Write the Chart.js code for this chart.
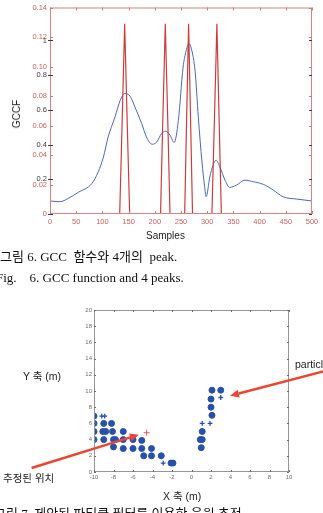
<!DOCTYPE html>
<html>
<head>
<meta charset="utf-8">
<script src="https://cdn.jsdelivr.net/npm/chart.js@4"></script>
<style>
  html, body { margin: 0; padding: 0; background: #fff; }
  body { width: 323px; height: 513px; overflow: hidden; position: relative; }
  canvas { position: absolute; left: 0; }
  #gcc { top: 0; }
  #track { top: 290px; }
  .t { position: absolute; white-space: pre; color: #222; line-height: 1;
       font-family: "Liberation Sans", "Noto Sans CJK KR", sans-serif; }
  .cap { position: absolute; white-space: pre; color: #111; line-height: 1; font-size: 13px;
         font-family: "Liberation Serif", "Noto Sans CJK KR", serif; }
</style>
</head>
<body>
<canvas id="gcc" width="323" height="245"></canvas>
<canvas id="track" width="323" height="200"></canvas>

<div class="t" style="left:17px;top:114px;font-size:10px;transform:translate(-50%,-50%) rotate(-90deg);">GCCF</div>
<div class="t" style="left:146px;top:231px;font-size:10px;">Samples</div>
<div class="cap" style="left:0;top:250px;">그림 6. GCC  함수와 4개의  peak.</div>
<div class="cap" style="left:-4px;top:271px;">Fig.    6. GCC function and 4 peaks.</div>

<div class="t" style="left:23px;top:371px;font-size:10.5px;">Y 축 (m)</div>
<div class="t" style="left:295px;top:359px;font-size:10.5px;">particle</div>
<div class="t" style="left:3px;top:473px;font-size:10.5px;">추정된 위치</div>
<div class="t" style="left:163px;top:491px;font-size:10.5px;">X 축 (m)</div>
<div class="cap" style="left:-6px;top:507px;">그림 7. 제안된 파티클 필터를 이용한 음원 추적</div>

<script>
"use strict";

// GCC 함수 (파란 곡선, 검은 눈금 0~1)
const gccX = [0, 19, 35, 54, 80, 92, 102, 111, 124, 134, 142, 153, 162, 175, 184, 195, 204, 213, 221, 229,
              237, 245, 254, 259, 265, 270, 277, 283, 290, 295, 298, 305, 311, 317, 324, 334, 343, 356,
              372, 388, 407, 426, 445, 471, 500];
const gccY = [0.075, 0.071, 0.090, 0.125, 0.176, 0.243, 0.329, 0.444, 0.559, 0.655, 0.694, 0.678, 0.617,
              0.521, 0.444, 0.402, 0.416, 0.464, 0.477, 0.454, 0.412, 0.540, 0.847, 0.930, 0.983, 0.950,
              0.820, 0.560, 0.300, 0.160, 0.100, 0.214, 0.280, 0.310, 0.272, 0.195, 0.153, 0.167, 0.195,
              0.186, 0.171, 0.138, 0.099, 0.086, 0.075];

// 4개의 peak (빨간 선, 빨간 눈금 0~0.14)
const peakX = [0, 133, 137.5, 142.5, 147.5, 152, 211, 215, 220, 225, 229, 257, 260.5, 264.5, 268.5, 272,
               309, 313.5, 318.5, 323, 327, 500];
const peakY = [0, 0, 0.06, 0.129, 0.06, 0, 0, 0.06, 0.129, 0.06, 0, 0, 0.06, 0.129, 0.06, 0,
               0, 0.06, 0.129, 0.06, 0, 0];

// 파티클 (굵은 점)
const partX = [-10, -10, -9, -8.2, -10, -9.1, -8.8, -8.1, -7, -10, -9, -8, -7.8, -7, -6, -5.1,
               -8, -7, -6, -5.1, -4.1, -4.9, -4.1, -3.1, -2.1, -1.9,
               2.1, 3.0, 2.0, 2.0, 2.1, 1.1, 0.9, 1.1, 1.0];
const partY = [6.9, 6.0, 6.0, 6.0, 5.0, 5.0, 5.0, 5.0, 5.0, 4.0, 4.0, 4.0, 4.0, 4.0, 4.0, 3.9,
               3.1, 2.9, 2.9, 2.9, 2.9, 2.0, 2.0, 2.0, 1.1, 1.1,
               10.1, 10.1, 9.0, 8.0, 7.0, 5.0, 4.0, 4.0, 3.0];
// 파티클 (작은 +)
const smallX = [-9.2, -8.9, -2.9, 3.0, 1.9, 1.1];
const smallY = [6.9, 6.9, 1.1, 9.2, 6.0, 6.0];
// 추정된 위치
const estX = [-4.6];
const estY = [4.85];

const arrowList = [[-16.4, 0.5, -5.4, 4.6], [13.8, 12.5, 3.95, 9.4]];

function pairs(xs, ys) {
    return xs.map((v, i) => ({ x: v, y: ys[i] }));
}

// 테두리, 안쪽 눈금, 겹친 눈금 글자
const frameTicks = {
    id: 'frameTicks',
    afterDatasetsDraw(chart, args, opts) {
        const { ctx, chartArea: a } = chart;
        ctx.save();
        ctx.lineWidth = 1;
        ctx.strokeStyle = opts.frame;
        ctx.strokeRect(a.left + 0.5, a.top + 0.5, a.right - a.left - 1, a.bottom - a.top - 1);
        opts.axes.forEach(ax => {
            const s = chart.scales[ax.id];
            ctx.strokeStyle = ax.color;
            ctx.beginPath();
            s.ticks.forEach(t => {
                const p = Math.round(s.getPixelForValue(t.value)) + 0.5;
                if (s.isHorizontal()) {
                    ctx.moveTo(p, a.bottom); ctx.lineTo(p, a.bottom - ax.len);
                    ctx.moveTo(p, a.top); ctx.lineTo(p, a.top + ax.len);
                } else {
                    ctx.moveTo(a.left - (ax.out || 0), p); ctx.lineTo(a.left + ax.len, p);
                    ctx.moveTo(a.right, p); ctx.lineTo(a.right - ax.len, p);
                }
            });
            ctx.stroke();
            if (ax.labels) {
                ctx.fillStyle = ax.labels;
                ctx.font = '7.5px "Liberation Sans"';
                ctx.textAlign = 'right';
                ctx.textBaseline = 'middle';
                s.ticks.forEach(t => {
                    if (t.value === 0) return;
                    const txt = String(Number(t.value.toFixed(2)));
                    ctx.fillText(txt, a.left - 3, s.getPixelForValue(t.value));
                });
            }
        });
        ctx.restore();
    }
};

const arrows = {
    id: 'arrows',
    afterDraw(chart, args, opts) {
        const { ctx, scales: { x, y } } = chart;
        ctx.save();
        ctx.strokeStyle = opts.color;
        ctx.fillStyle = opts.color;
        ctx.lineWidth = opts.width;
        opts.list.forEach(([x0, y0, x1, y1]) => {
            const ax = x.getPixelForValue(x0), ay = y.getPixelForValue(y0);
            const bx = x.getPixelForValue(x1), by = y.getPixelForValue(y1);
            const ang = Math.atan2(by - ay, bx - ax);
            const hx = bx - 9 * Math.cos(ang), hy = by - 9 * Math.sin(ang);
            ctx.beginPath();
            ctx.moveTo(ax, ay);
            ctx.lineTo(hx, hy);
            ctx.stroke();
            ctx.beginPath();
            ctx.moveTo(bx, by);
            ctx.lineTo(hx + 4 * Math.sin(ang), hy - 4 * Math.cos(ang));
            ctx.lineTo(hx - 4 * Math.sin(ang), hy + 4 * Math.cos(ang));
            ctx.closePath();
            ctx.fill();
        });
        ctx.restore();
    }
};

const red = 'rgb(205,60,60)';
const redText = 'rgb(205,95,95)';

new Chart(document.getElementById('gcc'), {
    type: 'line',
    data: {
        datasets: [{
            data: pairs(peakX, peakY),
            yAxisID: 'y',
            borderColor: red,
            borderWidth: 1.2,
            pointRadius: 0,
            tension: 0
        }, {
            data: pairs(gccX, gccY),
            yAxisID: 'y2',
            borderColor: 'rgb(75,105,185)',
            borderWidth: 1,
            pointRadius: 0,
            tension: 0.4,
            cubicInterpolationMode: 'monotone'
        }]
    },
    options: {
        responsive: false,
        animation: false,
        devicePixelRatio: 1,
        layout: { padding: { left: 0, right: 11, top: 7, bottom: 0 } },
        plugins: {
            legend: { display: false },
            tooltip: { enabled: false },
            frameTicks: {
                frame: 'rgb(220,130,130)',
                axes: [
                    { id: 'x', color: 'rgb(210,120,120)', len: 3 },
                    { id: 'y', color: 'rgb(210,120,120)', len: 3 },
                    { id: 'y2', color: 'rgb(60,60,60)', len: 3, out: 2, labels: 'rgb(60,60,60)' }
                ]
            }
        },
        scales: {
            x: {
                type: 'linear', min: 0, max: 500,
                grid: { display: false, drawTicks: false }, border: { display: false },
                ticks: { stepSize: 50, color: redText, padding: 3,
                         font: { family: 'Liberation Sans', size: 7.5 } },
                afterFit: s => { s.height = 31; }
            },
            y: {
                position: 'left', weight: 1, min: 0, max: 0.14,
                grid: { display: false, drawTicks: false }, border: { display: false },
                ticks: { stepSize: 0.02, color: redText, padding: 3,
                         font: { family: 'Liberation Sans', size: 7.5 } },
                afterFit: s => { s.width = 50; }
            },
            y2: {
                position: 'left', weight: 0, min: 0, max: 1.19,
                grid: { display: false, drawTicks: false }, border: { display: false },
                ticks: { stepSize: 0.2, includeBounds: false, display: false },
                afterFit: s => { s.width = 0; }
            }
        }
    },
    plugins: [frameTicks]
});

const blue = 'rgb(40,80,170)';
const gray = 'rgb(110,110,110)';

new Chart(document.getElementById('track'), {
    type: 'scatter',
    data: {
        datasets: [{
            data: pairs(estX, estY),
            pointStyle: 'cross',
            pointRadius: 3,
            borderColor: 'rgb(240,90,90)',
            borderWidth: 1
        }, {
            data: pairs(smallX, smallY),
            pointStyle: 'cross',
            pointRadius: 2.4,
            borderColor: blue,
            borderWidth: 1.3
        }, {
            data: pairs(partX, partY),
            pointStyle: 'circle',
            pointRadius: 3,
            backgroundColor: blue,
            borderColor: blue,
            borderWidth: 1
        }]
    },
    options: {
        responsive: false,
        animation: false,
        devicePixelRatio: 1,
        layout: { padding: { left: 0, right: 34, top: 20, bottom: 0 } },
        plugins: {
            legend: { display: false },
            tooltip: { enabled: false },
            frameTicks: {
                frame: 'rgb(150,150,150)',
                axes: [
                    { id: 'x', color: gray, len: 2 },
                    { id: 'y', color: gray, len: 2 }
                ]
            },
            arrows: { list: arrowList, color: 'rgb(235,70,50)', width: 2.5 }
        },
        scales: {
            x: {
                type: 'linear', min: -10, max: 10,
                grid: { display: false, drawTicks: false }, border: { display: false },
                ticks: { stepSize: 2, color: gray, padding: 2,
                         font: { family: 'Liberation Sans', size: 6 } },
                afterFit: s => { s.height = 18; }
            },
            y: {
                min: 0, max: 20,
                grid: { display: false, drawTicks: false }, border: { display: false },
                ticks: { stepSize: 2, color: gray, padding: 2,
                         font: { family: 'Liberation Sans', size: 6 } },
                afterFit: s => { s.width = 94; }
            }
        }
    },
    plugins: [frameTicks, arrows]
});
</script>
</body>
</html>
